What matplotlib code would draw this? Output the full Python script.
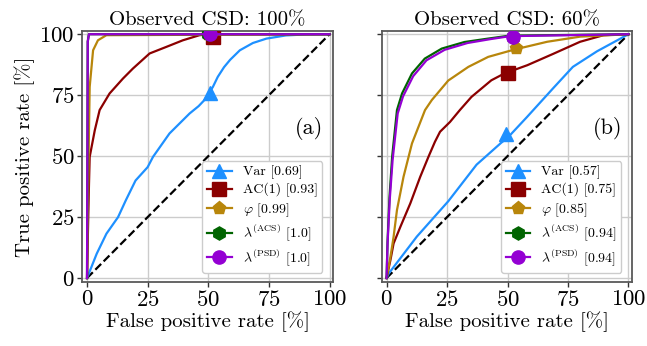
import numpy as np
import matplotlib
matplotlib.use("Agg")
import matplotlib.pyplot as plt

plt.rcParams['font.family'] = ['cmr10']
plt.rcParams['mathtext.fontset'] = 'cm'
plt.rcParams['axes.formatter.use_mathtext'] = True

# ---- panel (a): observed CSD 100% ----
a_var_fpr = [0, 4, 8, 12.8, 16, 20, 25, 27.2, 34, 42.3, 46, 48.4, 51.9, 53.9, 56.5, 59, 63, 68.4, 74, 82, 90, 100]
a_var_tpr = [0, 10, 18.2, 25, 31.9, 40, 45.5, 49.7, 59.3, 67.5, 70.5, 73, 78.4, 82.5, 86.5, 89.5, 93.4, 96.4, 98.2, 99.5, 99.9, 100]
a_ac_fpr = [0, 0.4, 0.8, 1.1, 3.2, 5.2, 9.3, 14.8, 18.9, 25.8, 32.7, 39.5, 46.4, 52, 100]
a_ac_tpr = [0, 20, 38, 49.7, 60.6, 68.9, 75.7, 81.8, 85.9, 92.1, 94.8, 97.5, 99.6, 100, 100]
a_phi_fpr = [0, 0.4, 0.8, 1.1, 2.5, 4.5, 8, 100]
a_phi_tpr = [0, 30, 60, 78.4, 93.4, 97.5, 99.6, 100]
a_acs_fpr = [0, 0.3, 0.8, 100]
a_acs_tpr = [0, 97, 100, 100]
a_psd_fpr = [0, 0.3, 0.8, 100]
a_psd_tpr = [0, 97, 100, 100]
a_marks = [(50.8, 76), (52, 99), (50, 100), (50, 100), (50.5, 100)]
a_auc = ["0.69", "0.93", "0.99", "1.0", "1.0"]

# ---- panel (b): observed CSD 60% ----
b_var_fpr = [0, 0.9, 12.5, 25.5, 37.2, 47.4, 50, 58, 69, 77, 87, 100]
b_var_tpr = [0, 1.9, 17, 31.5, 46.5, 55.5, 57.5, 66, 78, 86.6, 93, 100]
b_ac_fpr = [0, 1.6, 2.9, 5.7, 9.8, 13.9, 17.3, 20, 22.1, 26.2, 30.3, 35.1, 43.3, 48.7, 58.2, 69, 80, 89.7, 100]
b_ac_tpr = [0, 7.4, 14.2, 21, 30.6, 41.5, 49.7, 55.9, 60, 64, 68.9, 74.3, 81.1, 83.9, 87.3, 92, 96.9, 99.6, 100]
b_phi_fpr = [0, 1.6, 2.9, 4.3, 7, 10.5, 15.9, 18.7, 25.5, 33.8, 42, 52.8, 66.4, 80, 100]
b_phi_tpr = [0, 8.7, 16.9, 27.9, 41.5, 55.2, 68.9, 73, 81, 86.6, 90.7, 93.7, 96.9, 99, 100]
b_acs_fpr = [0, 0.4, 1.2, 2.3, 4.3, 6.4, 10.5, 15.8, 22.8, 32.2, 42, 50.7, 100]
b_acs_tpr = [0, 15, 33, 49.7, 68.9, 75.7, 83.9, 90, 94.1, 96.8, 98.2, 99.4, 100]
b_psd_fpr = [0, 0.4, 1.3, 2.5, 4.6, 6.8, 11, 16.5, 24, 33.5, 43, 51, 100]
b_psd_tpr = [0, 14, 32, 48.5, 67.5, 74.5, 82.8, 89.3, 93.6, 96.4, 98, 99.2, 100]
b_marks = [(49.5, 59.2), (50.4, 84), (53.6, 94.4), (52.2, 99), (52.2, 99)]
b_auc = ["0.57", "0.75", "0.85", "0.94", "0.94"]

names = ["Var", "AC(1)", r"$\varphi$", r"$\lambda^{\rm (ACS)}$", r"$\lambda^{\rm (PSD)}$"]
colors = ["#1E90FF", "#8B0000", "#B8860B", "#006400", "#9400D3"]
markers = ["^", "s", "p", "h", "o"]

panels = [
    ("Observed CSD: 100%", "(a)",
     [(a_var_fpr, a_var_tpr), (a_ac_fpr, a_ac_tpr), (a_phi_fpr, a_phi_tpr),
      (a_acs_fpr, a_acs_tpr), (a_psd_fpr, a_psd_tpr)], a_marks, a_auc),
    ("Observed CSD: 60%", "(b)",
     [(b_var_fpr, b_var_tpr), (b_ac_fpr, b_ac_tpr), (b_phi_fpr, b_phi_tpr),
      (b_acs_fpr, b_acs_tpr), (b_psd_fpr, b_psd_tpr)], b_marks, b_auc),
]

fig = plt.figure(figsize=(6.47, 3.46), dpi=100)
positions = [[0.127, 0.185, 0.388, 0.726], [0.590, 0.185, 0.387, 0.726]]

for i, (title, tag, curves, marks, aucs) in enumerate(panels):
    ax = fig.add_axes(positions[i])
    ax.plot([0, 100], [0, 100], "k--", lw=1.6, zorder=2)
    for j, (fpr, tpr) in enumerate(curves):
        ax.plot(fpr, tpr, color=colors[j], lw=1.6, zorder=3 + j)
        ax.plot(*marks[j], marker=markers[j], color=colors[j], ms=9.5, zorder=3 + j)
        # legend handle: line with marker
        ax.plot([], [], color=colors[j], lw=1.6, marker=markers[j], ms=9.5,
                label=f"{names[j]} [{aucs[j]}]")
    ax.set_xlim(-2, 101.5)
    ax.set_ylim(-1.6, 101.4)
    ax.set_xticks([0, 25, 50, 75, 100])
    ax.set_yticks([0, 25, 50, 75, 100])
    ax.grid(True, color="0.8", lw=1)
    ax.set_axisbelow(True)
    for s in ax.spines.values():
        s.set_color("0.35")
        s.set_linewidth(1.3)
    ax.tick_params(labelsize=16.5, length=3.5, width=1, color="0.2", pad=2)
    ax.set_title(title, fontsize=15, pad=4)
    ax.set_xlabel("False positive rate [%]", fontsize=15, labelpad=1)
    if i == 0:
        ax.set_ylabel("True positive rate [%]", fontsize=15, labelpad=3)
    else:
        ax.set_yticklabels([])
    ax.text(0.96, 0.61, tag, transform=ax.transAxes, ha="right", va="center", fontsize=16)
    ax.legend(loc="lower right", fontsize=10, handlelength=1.75, borderpad=0.35,
              labelspacing=0.28, handletextpad=0.8, framealpha=1, edgecolor="0.8",
              bbox_to_anchor=(0.985, 0.01))

fig.savefig("out.png", dpi=100)
